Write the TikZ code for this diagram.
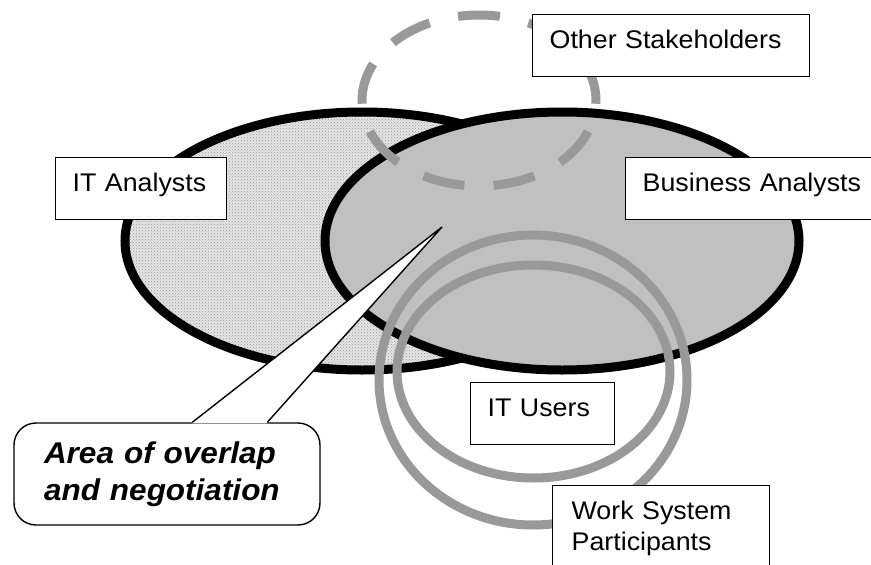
\documentclass[tikz,border=0pt]{standalone}
\usepackage{fontspec}
\setmainfont{Liberation Sans}[FakeStretch=1.05]
\usetikzlibrary{patterns}
\definecolor{ringgray}{HTML}{999999}
\definecolor{bagray}{HTML}{C0C0C0}

\begin{document}
\begin{tikzpicture}[x=1pt,y=-1pt,
    group/.style={draw=black,line width=9pt},
    ring/.style={draw=ringgray,line width=9pt},
    tag/.style={draw=black,line width=1.4pt,fill=white,anchor=north west,
      inner xsep=17pt,inner ysep=0pt,align=left,
      text height=34pt,text depth=28pt,
      font=\fontsize{25.5pt}{31pt}\selectfont},
    bubble/.style={draw=black,line width=1.4pt,fill=white,rounded corners=22pt,
      minimum width=306pt,minimum height=102pt,align=left,text width=246pt,
      font=\fontsize{30pt}{37pt}\selectfont\bfseries\itshape}]
  \useasboundingbox (0,0) rectangle (871,565);

  % the two analyst groups
  \path[fill=gray!20,postaction={pattern=crosshatch dots,pattern color=gray!80}]
    (362,241) ellipse [x radius=237pt,y radius=129pt];
  \draw[group] (362,241) ellipse [x radius=237pt,y radius=129pt];
  \draw[group,fill=bagray] (562,241) ellipse [x radius=237pt,y radius=129pt];

  % other stakeholders, users and participants
  \draw[ring,dash pattern=on 42pt off 29.11pt,dash phase=3.2pt]
    (479,100.5) ellipse [x radius=117pt,y radius=85.5pt];
  \draw[ring] (533,380) ellipse [x radius=154pt,y radius=145pt];
  \draw[ring] (533.5,371.5) ellipse [x radius=136.5pt,y radius=106.5pt];

  % callout
  \node[bubble] (bubble) at (167,474) {Area of overlap\\and negotiation};
  \coordinate (tip) at (442,227);
  \fill[white] ([xshift=179pt,yshift=-1pt]bubble.north west)
    -- ([xshift=179pt]bubble.north west) -- (tip)
    -- ([xshift=254pt]bubble.north west)
    -- ([xshift=254pt,yshift=-1pt]bubble.north west) -- cycle;
  \draw[line width=1.4pt,line join=miter]
    ([xshift=179pt]bubble.north west) -- (tip) -- ([xshift=254pt]bubble.north west);

  % labels
  \node[tag,text width=137pt] (itan) at (55,157) {IT Analysts};
  \node[tag,text width=241pt] (busan) at (625,157) {Business Analysts};
  \node[tag,text width=243pt] (other) at (532,14) {Other Stakeholders};
  \node[tag,text width=110pt] (itus) at (470,382) {IT Users};
  \node[tag,text width=179pt,inner xsep=19pt,text depth=90pt] (wsp) at (552,485)
    {Work System\\Participants};
\end{tikzpicture}
\end{document}
